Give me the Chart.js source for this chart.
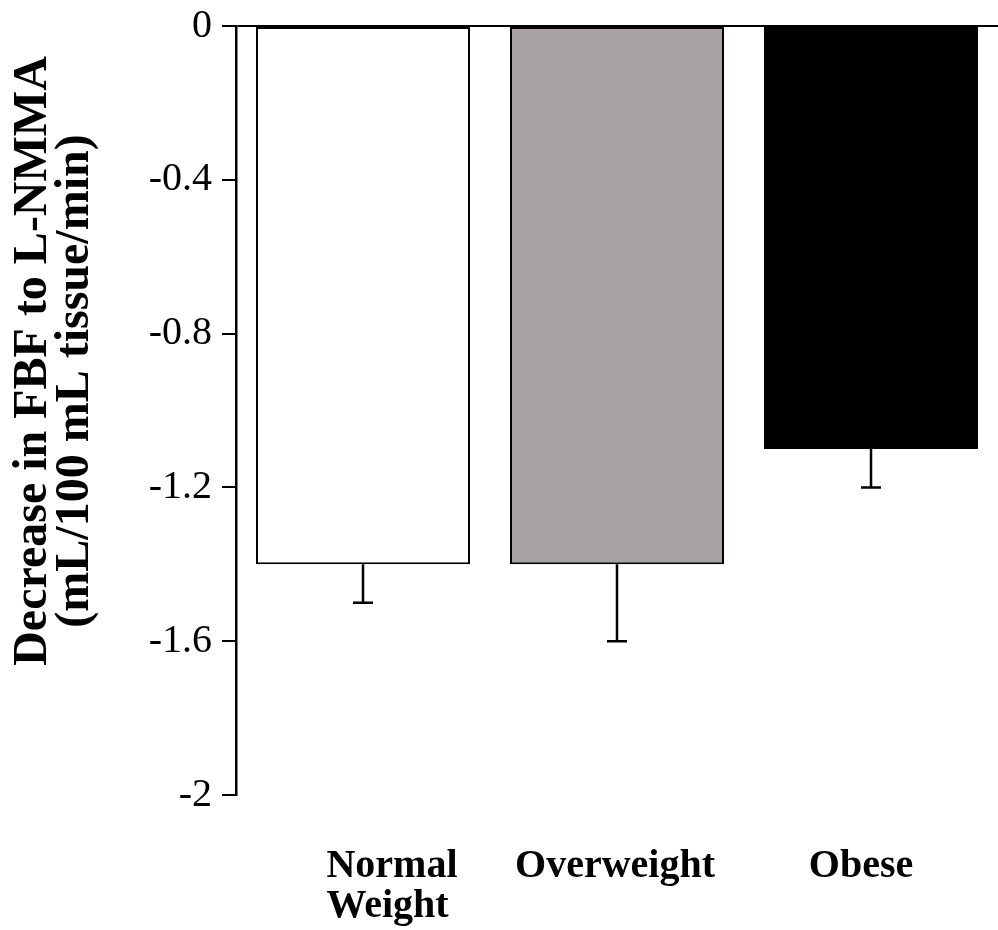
<!DOCTYPE html>
<html><head><meta charset="utf-8">
<script src="https://cdn.jsdelivr.net/npm/chart.js@4.4.1/dist/chart.umd.min.js"></script>
<style>html,body{margin:0;padding:0;background:#fff;overflow:hidden}canvas{display:block}</style>
</head><body>
<canvas id="c" width="998" height="930"></canvas>
<script>
// ---- data ----
const categories = [["Normal", "Weight"], ["Overweight"], ["Obese"]];
const values = [-1.4, -1.4, -1.1];
const errors = [0.1, 0.2, 0.1];
const yTicks = [0, -0.4, -0.8, -1.2, -1.6, -2];
const yTitle = ["Decrease in FBF to L-NMMA", "(mL/100 mL tissue/min)"];
const barColors = ["#ffffff", "#a7a1a1", "#000000"];

const SERIF = '"Liberation Serif", "Times New Roman", serif';

const errorBars = {
  id: 'errorBars',
  afterDatasetsDraw(chart) {
    const ctx = chart.ctx, ys = chart.scales.y;
    const meta = chart.getDatasetMeta(0);
    ctx.save();
    ctx.strokeStyle = '#000';
    ctx.lineWidth = 2.5;
    meta.data.forEach((bar, i) => {
      const v = values[i];
      const y0 = ys.getPixelForValue(v);
      const y1 = ys.getPixelForValue(v - errors[i]);
      ctx.beginPath();
      ctx.moveTo(bar.x, y0);
      ctx.lineTo(bar.x, y1);
      ctx.moveTo(bar.x - 10, y1);
      ctx.lineTo(bar.x + 10, y1);
      ctx.stroke();
    });
    ctx.restore();
  }
};

const labelShift = [29, -2, -10];
const textPlugin = {
  id: 'texts',
  afterDraw(chart) {
    const ctx = chart.ctx, xs = chart.scales.x, area = chart.chartArea;
    ctx.save();
    ctx.fillStyle = '#000';
    // category labels
    ctx.font = 'bold 40px ' + SERIF;
    ctx.textAlign = 'left';
    ctx.textBaseline = 'alphabetic';
    categories.forEach((lines, i) => {
      const cx = xs.getPixelForValue(i) + labelShift[i];
      const w = Math.max(...lines.map(l => ctx.measureText(l).width));
      lines.forEach((l, j) => ctx.fillText(l, cx - w / 2, area.bottom + 82 + j * 40));
    });
    // y axis title
    ctx.font = 'bold 48px ' + SERIF;
    ctx.textAlign = 'center';
    const pos = [[46, 361], [88, 381]];
    yTitle.forEach((t, j) => {
      ctx.save();
      ctx.translate(pos[j][0], pos[j][1]);
      ctx.rotate(-Math.PI / 2);
      ctx.fillText(t, 0, 0);
      ctx.restore();
    });
    ctx.restore();
  }
};

new Chart(document.getElementById('c'), {
  type: 'bar',
  data: {
    labels: categories.map(c => c.join(' ')),
    datasets: [{
      data: values,
      backgroundColor: barColors,
      borderColor: '#000',
      borderWidth: 2,
      borderSkipped: false,
      barPercentage: 0.8425,
      categoryPercentage: 1
    }]
  },
  options: {
    responsive: false,
    animation: false,
    devicePixelRatio: 1,
    layout: { padding: { top: 26, right: 0, left: 0, bottom: 0 } },
    plugins: { legend: { display: false }, tooltip: { enabled: false } },
    scales: {
      x: {
        grid: { display: false },
        border: { display: false },
        ticks: { display: false },
        afterFit: s => { s.height = 135; s.paddingLeft = 0; s.paddingRight = 0; }
      },
      y: {
        min: -2, max: 0,
        afterBuildTicks: s => { s.ticks = yTicks.map(v => ({ value: v })); },
        ticks: {
          callback: v => String(v),
          font: { family: SERIF, size: 40 },
          color: '#000',
          padding: 10
        },
        grid: {
          drawOnChartArea: true,
          color: c => (c.tick && Math.abs(c.tick.value) < 1e-9) ? '#000' : 'rgba(0,0,0,0)',
          tickColor: '#000',
          tickLength: 14,
          lineWidth: 2,
          tickWidth: 2
        },
        border: { display: true, color: '#000', width: 2.5 },
        afterFit: s => { s.width = 236; s.paddingTop = 0; s.paddingBottom = 0; }
      }
    }
  },
  plugins: [errorBars, textPlugin]
});
</script>
</body></html>
